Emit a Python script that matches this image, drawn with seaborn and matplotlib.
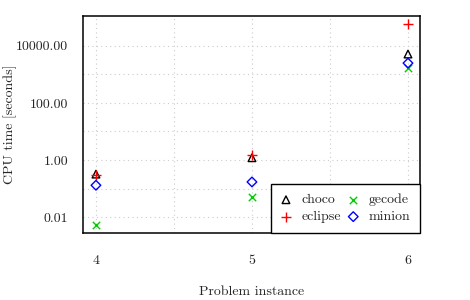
import numpy as np
import pandas as pd
import matplotlib
matplotlib.use('Agg')
import matplotlib.pyplot as plt
import matplotlib.ticker as mticker
import seaborn as sns

# values (log scale)
instances = [4, 5, 6]
choco = [0.32, 1.2, 5200]
eclipse = [0.30, 1.5, 59000]
gecode = [0.0052, 0.05, 1700]
minion = [0.13, 0.17, 2500]

solvers = ['choco', 'eclipse', 'gecode', 'minion']
markers = {'choco': '^', 'eclipse': '+', 'gecode': 'x', 'minion': 'D'}
colors = {'choco': 'black', 'eclipse': '#ff0000', 'gecode': '#00cc00', 'minion': '#0000ff'}
sizes = {'choco': 30, 'eclipse': 50, 'gecode': 28, 'minion': 24}

df = pd.DataFrame({'instance': instances * 4,
                   'time': choco + eclipse + gecode + minion,
                   'solver': [s for s in solvers for _ in instances]})

sns.set_style('white')
plt.rcParams['font.family'] = ['cmr10', 'DejaVu Serif']
plt.rcParams['axes.formatter.use_mathtext'] = True

fig = plt.figure(figsize=(4.7, 3.0), dpi=100)
ax = fig.add_axes([83 / 470, 67 / 300, 337 / 470, 217 / 300])

for s in solvers:
    sub = df[df['solver'] == s]
    m = markers[s]
    if m in ('^', 'D'):
        sns.scatterplot(data=sub, x='instance', y='time', marker=m, s=sizes[s],
                        facecolors='none', edgecolors=colors[s], linewidth=1.0,
                        label=s, ax=ax, zorder=3)
    else:
        sns.scatterplot(data=sub, x='instance', y='time', marker=m, s=sizes[s],
                        color=colors[s], linewidth=1.0, label=s, ax=ax, zorder=3)

ax.set_yscale('log')
ax.set_xlim(3.917, 6.077)
ax.set_ylim(10 ** -2.56, 10 ** 5.05)

ax.set_yticks([0.01, 1, 100, 10000])
ax.set_yticklabels(['0.01', '1.00', '100.00', '10000.00'])
ax.set_yticks([10.0 ** k for k in range(-2, 5)], minor=True)
ax.yaxis.set_minor_formatter(mticker.NullFormatter())
ax.set_xticks([4, 5, 6])
ax.set_xticklabels(['4', '5', '6'])
ax.set_xticks([4.5, 5.5], minor=True)
ax.xaxis.set_minor_formatter(mticker.NullFormatter())

ax.grid(True, which='both', color='#cccccc', linestyle=(0, (1, 3)), linewidth=0.8)
ax.tick_params(axis='both', which='minor', length=0)
ax.tick_params(axis='x', which='major', length=6.5, width=1.2, color='#555555', pad=9, labelsize=10)
ax.tick_params(axis='y', which='major', length=6.5, width=1.0, color='#333333', pad=4, labelsize=10)

for sp in ax.spines.values():
    sp.set_visible(True)
    sp.set_color('black')
    sp.set_linewidth(1.1)

ax.set_xlabel('Problem instance', fontsize=10, labelpad=14)
ax.set_ylabel('CPU time [seconds]', fontsize=10)
ax.yaxis.set_label_coords(-0.195, 0.5)

leg = ax.legend(loc='lower right', ncol=2, frameon=True, fancybox=False, borderaxespad=0,
                fontsize=10, handlelength=0.8, handletextpad=0.7, columnspacing=0.5,
                labelspacing=0.3, borderpad=0.7)
leg.get_frame().set_edgecolor('black')
leg.get_frame().set_linewidth(1.0)
leg.get_frame().set_alpha(1)

fig.savefig('out.png', dpi=100)
